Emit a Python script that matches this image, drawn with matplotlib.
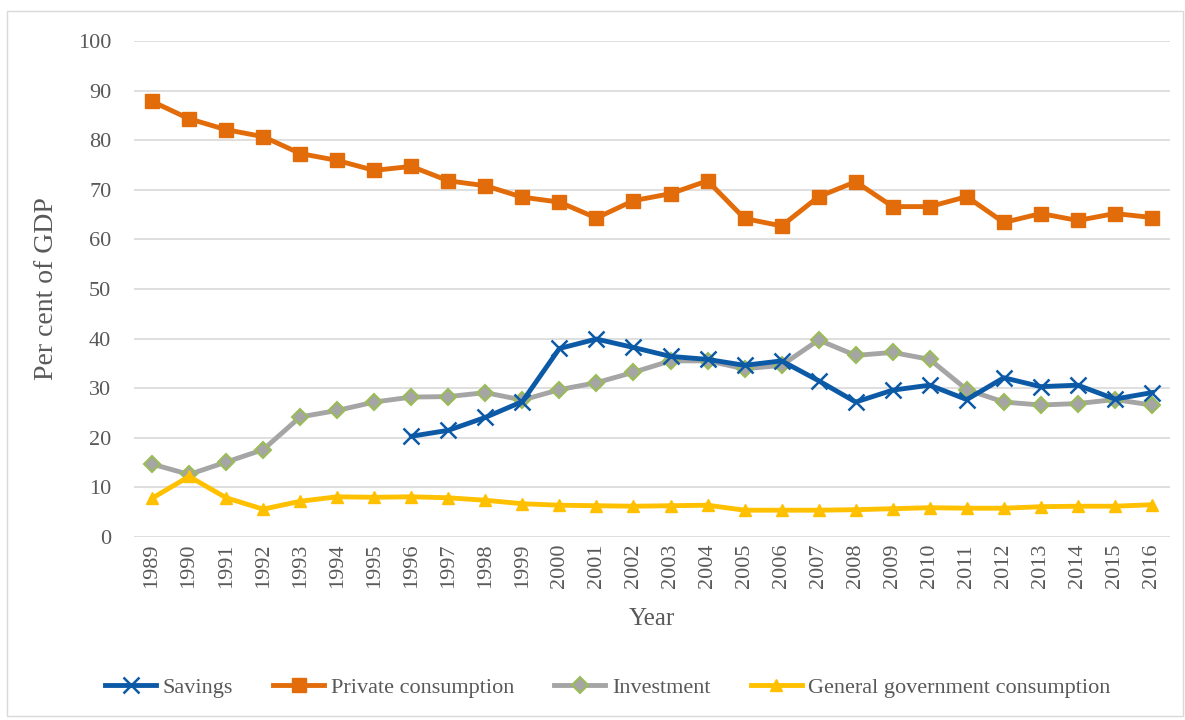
import matplotlib
matplotlib.use('Agg')
import matplotlib.pyplot as plt
from matplotlib.patches import Rectangle

plt.rcParams['font.family'] = ['Liberation Serif', 'DejaVu Serif']

years = list(range(1989, 2017))

savings = [None]*7 + [20.3, 21.5, 24.1, 27.3, 38.0, 39.9, 38.2, 36.4, 35.8, 34.6,
                      35.5, 31.5, 27.2, 29.6, 30.6, 27.7, 32.1, 30.3, 30.6, 27.8, 29.1]
private_cons = [87.8, 84.3, 82.1, 80.7, 77.3, 75.9, 73.9, 74.7, 71.8, 70.8, 68.5, 67.5,
                64.3, 67.8, 69.2, 71.8, 64.2, 62.7, 68.6, 71.6, 66.6, 66.6, 68.6, 63.4,
                65.2, 63.8, 65.2, 64.4]
investment = [14.7, 12.6, 15.1, 17.6, 24.2, 25.5, 27.2, 28.2, 28.3, 29.1, 27.6, 29.7,
              31.1, 33.2, 35.5, 35.5, 33.9, 34.6, 39.7, 36.6, 37.2, 35.8, 29.7, 27.2,
              26.6, 26.9, 27.7, 26.6]
gov_cons = [7.8, 12.2, 7.9, 5.6, 7.2, 8.1, 8.0, 8.1, 7.9, 7.4, 6.7, 6.4, 6.3, 6.2,
            6.3, 6.4, 5.4, 5.4, 5.4, 5.5, 5.7, 5.9, 5.8, 5.8, 6.1, 6.2, 6.2, 6.5]

text_col = '#595959'
fig = plt.figure(figsize=(11.85, 7.2), dpi=100)
fig.patches.append(Rectangle((7/1185, 4/720), 1176/1185, 705/720, transform=fig.transFigure,
                             fill=False, edgecolor='#d9d9d9', linewidth=1))
ax = fig.add_axes([0.1127, 0.2542, 0.875, 0.689])

sv_x = [y for y, v in zip(years, savings) if v is not None]
sv_y = [v for v in savings if v is not None]
ax.plot(sv_x, sv_y, color='#0C5AA6', lw=3.5, marker='x', ms=11, mew=1.8,
        label='Savings', zorder=3)
ax.plot(years, private_cons, color='#E36C0A', lw=3.5, marker='s', ms=10,
        label='Private consumption', zorder=3)
ax.plot(years, investment, color='#A5A5A5', lw=3.5, marker='D', ms=8,
        mfc='#A5A5A5', mec='#9BBB59', mew=1.5, label='Investment', zorder=2)
ax.plot(years, gov_cons, color='#FFC000', lw=3.5, marker='^', ms=9,
        label='General government consumption', zorder=2)

ax.set_xlim(1988.5, 2016.5)
ax.set_ylim(0, 100)
ax.set_yticks(range(0, 101, 10))
ax.set_xticks(years)
ax.set_xticklabels([str(y) for y in years], rotation=90)
ax.grid(axis='y', color='#d9d9d9', lw=1.2)
ax.set_axisbelow(True)
for s in ax.spines.values():
    s.set_visible(False)
ax.tick_params(length=0, labelsize=16, labelcolor=text_col, pad=5)
ax.tick_params(axis='y', pad=16)

ax.set_ylabel('Per cent of GDP', fontsize=20, color=text_col, labelpad=14)
ax.set_xlabel('Year', fontsize=18, color=text_col, labelpad=14)

fig.legend(loc='center', bbox_to_anchor=(0.513, 0.045), ncol=4, frameon=False,
           fontsize=16, labelcolor=text_col, handlelength=2.3, handletextpad=0.3,
           columnspacing=1.8)

fig.savefig('out.png', dpi=100)
